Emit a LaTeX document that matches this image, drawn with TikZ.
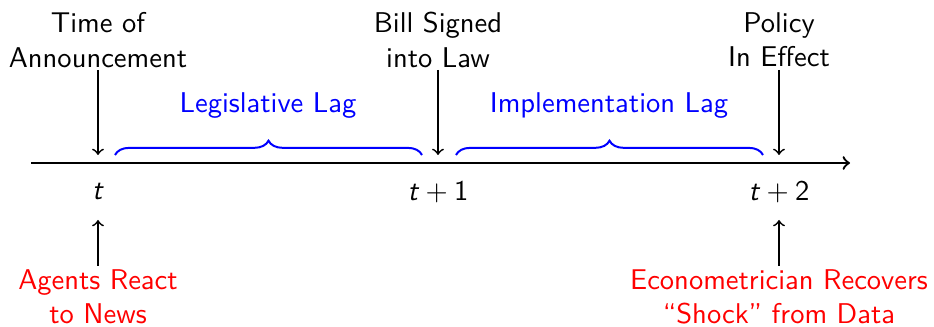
\documentclass[tikz,border=0pt]{standalone}
\usetikzlibrary{decorations.pathreplacing}
\newcommand{\tvar}{\textsf{\itshape t}}
\begin{document}
\begin{tikzpicture}[x=0.35pt,y=-0.35pt,
  lbl/.style={font=\sffamily, align=center, inner sep=0pt},
  redlbl/.style={lbl, text=red},
  lag/.style={lbl, text=blue},
  ptr/.style={->, line width=0.6pt},
  bracebrace/.style={draw=blue, line width=0.7pt, decorate, decoration={brace, amplitude=5pt}},
  axisline/.style={->, line width=0.8pt}]
\useasboundingbox (0,0) rectangle (934,327);
% axis
\coordinate (start) at (31,163);
\coordinate (end) at (850,163);
\draw[axisline] (start) -- (end);
% top labels
\node[lbl] (ann) at (98,40) {Time of\\Announcement};
\node[lbl] (bill) at (438,40) {Bill Signed\\into Law};
\node[lbl] (pol) at (779,40) {Policy\\In Effect};
\coordinate (a0) at (98,155);
\coordinate (a1) at (438,155);
\coordinate (a2) at (779,155);
\draw[ptr] (98,70) -- (a0);
\draw[ptr] (438,70) -- (a1);
\draw[ptr] (779,70) -- (a2);
% braces
\coordinate (b0s) at (115,155);
\coordinate (b0e) at (422,155);
\coordinate (b1s) at (456,155);
\coordinate (b1e) at (763,155);
\draw[bracebrace] (b0s) -- (b0e);
\draw[bracebrace] (b1s) -- (b1e);
\node[lag] (leg) at (268,106) {Legislative Lag};
\node[lag] (imp) at (609,106) {Implementation Lag};
% tick labels
\node[lbl] (t0) at (98,192) {\tvar};
\node[lbl] (t1) at (438,192) {\tvar${}+{}$\textsf{1}};
\node[lbl] (t2) at (779,192) {\tvar${}+{}$\textsf{2}};
% bottom
\node[redlbl] (agents) at (98,297) {Agents React\\to News};
\node[redlbl] (econ) at (779,297) {Econometrician Recovers\\``Shock'' from Data};
\coordinate (u0) at (98,220);
\coordinate (u2) at (779,220);
\draw[ptr] (98,266) -- (u0);
\draw[ptr] (779,266) -- (u2);
\end{tikzpicture}
\end{document}
